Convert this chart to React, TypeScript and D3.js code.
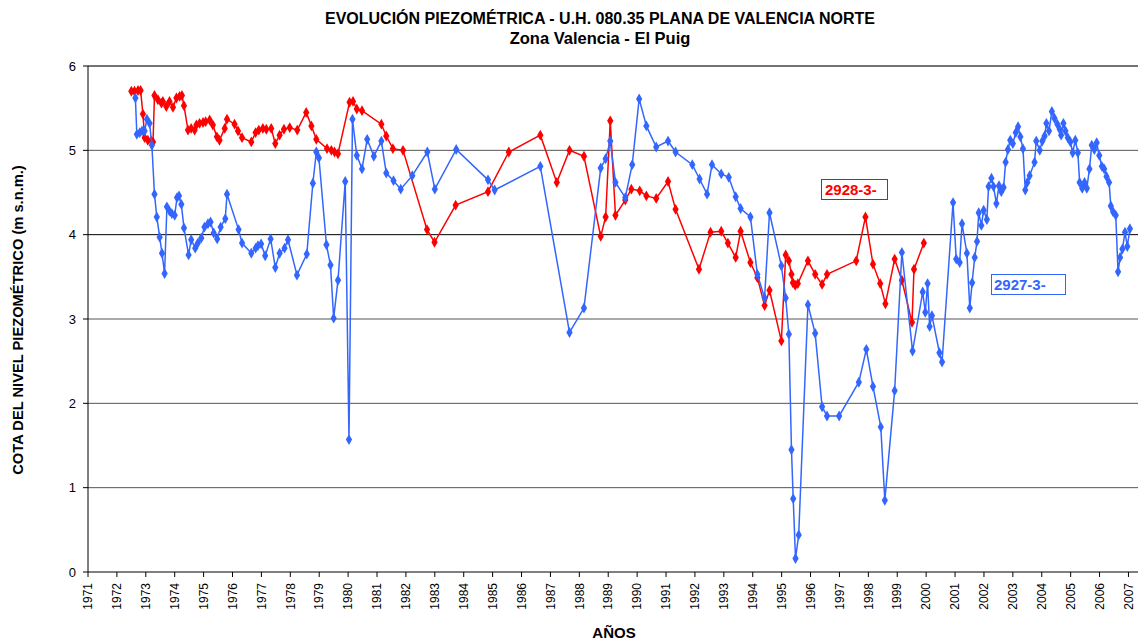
import React from "react";
import * as d3 from "d3";

// piezometer 2928-3- (red), [decimal year, level m s.n.m.]
const red2928: [number, number][] = [
  [1972.5, 5.7], [1972.61, 5.7], [1972.73, 5.71], [1972.82, 5.71], [1972.9, 5.43],
  [1972.96, 5.15], [1973.07, 5.12], [1973.19, 5.11], [1973.25, 5.1], [1973.3, 5.65],
  [1973.42, 5.6], [1973.54, 5.56], [1973.59, 5.58], [1973.71, 5.52], [1973.82, 5.58],
  [1973.94, 5.51], [1974.06, 5.62], [1974.17, 5.64], [1974.25, 5.65], [1974.32, 5.53],
  [1974.46, 5.24], [1974.57, 5.26], [1974.69, 5.24], [1974.75, 5.3], [1974.86, 5.32],
  [1974.98, 5.33], [1975.07, 5.34], [1975.21, 5.36], [1975.32, 5.3], [1975.46, 5.16],
  [1975.55, 5.12], [1975.73, 5.26], [1975.81, 5.37], [1976.07, 5.31], [1976.19, 5.23],
  [1976.33, 5.15], [1976.65, 5.1], [1976.8, 5.21], [1976.91, 5.24], [1977.05, 5.26],
  [1977.17, 5.25], [1977.34, 5.26], [1977.48, 5.08], [1977.63, 5.18], [1977.78, 5.25],
  [1977.98, 5.27], [1978.24, 5.24], [1978.55, 5.45], [1978.73, 5.29], [1978.9, 5.13],
  [1979.27, 5.02], [1979.42, 5.0], [1979.53, 4.98], [1979.65, 4.96], [1980.05, 5.57],
  [1980.17, 5.58], [1980.3, 5.49], [1980.48, 5.47], [1981.15, 5.31], [1981.32, 5.17],
  [1981.55, 5.02], [1981.9, 5.0], [1982.73, 4.06], [1982.99, 3.91], [1983.72, 4.35],
  [1984.84, 4.51], [1985.56, 4.98], [1986.65, 5.18], [1987.22, 4.62], [1987.66, 5.0],
  [1988.16, 4.93], [1988.74, 3.98], [1988.91, 4.21], [1989.07, 5.35], [1989.25, 4.23],
  [1989.59, 4.41], [1989.8, 4.54], [1990.09, 4.52], [1990.32, 4.46], [1990.66, 4.43],
  [1991.07, 4.63], [1991.33, 4.3], [1992.14, 3.59], [1992.54, 4.03], [1992.91, 4.04],
  [1993.14, 3.9], [1993.41, 3.73], [1993.58, 4.04], [1993.92, 3.67], [1994.16, 3.49],
  [1994.41, 3.16], [1994.58, 3.34], [1994.99, 2.74], [1995.14, 3.76], [1995.25, 3.69],
  [1995.34, 3.53], [1995.39, 3.43], [1995.47, 3.4], [1995.56, 3.42], [1995.91, 3.69],
  [1996.16, 3.53], [1996.4, 3.41], [1996.57, 3.53], [1997.58, 3.69], [1997.9, 4.21],
  [1998.16, 3.65], [1998.41, 3.42], [1998.59, 3.18], [1998.91, 3.71], [1999.16, 3.46],
  [1999.51, 2.96], [1999.58, 3.59], [1999.92, 3.9],
];

// piezometer 2927-3- (blue)
const blue2927: [number, number][] = [
  [1972.64, 5.62], [1972.69, 5.19], [1972.79, 5.21], [1972.87, 5.23], [1972.96, 5.23],
  [1973.04, 5.37], [1973.13, 5.32], [1973.21, 5.06], [1973.3, 4.48], [1973.38, 4.21],
  [1973.48, 3.97], [1973.56, 3.78], [1973.65, 3.54], [1973.73, 4.33], [1973.82, 4.28],
  [1973.9, 4.25], [1974.0, 4.23], [1974.08, 4.44], [1974.15, 4.46], [1974.23, 4.36],
  [1974.32, 4.08], [1974.48, 3.76], [1974.57, 3.94], [1974.71, 3.84], [1974.8, 3.9],
  [1974.92, 3.96], [1975.03, 4.09], [1975.15, 4.13], [1975.24, 4.15], [1975.35, 4.02],
  [1975.47, 3.95], [1975.59, 4.09], [1975.75, 4.19], [1975.81, 4.48], [1976.21, 4.06],
  [1976.33, 3.9], [1976.65, 3.78], [1976.8, 3.84], [1976.88, 3.87], [1976.99, 3.89],
  [1977.13, 3.75], [1977.32, 3.95], [1977.48, 3.61], [1977.63, 3.78], [1977.8, 3.84],
  [1977.92, 3.94], [1978.23, 3.52], [1978.57, 3.77], [1978.78, 4.61], [1978.9, 4.98],
  [1978.99, 4.91], [1979.25, 3.88], [1979.39, 3.64], [1979.5, 3.01], [1979.65, 3.46],
  [1979.9, 4.63], [1980.03, 1.57], [1980.15, 5.37], [1980.3, 4.94], [1980.48, 4.78],
  [1980.66, 5.13], [1980.89, 4.93], [1981.15, 5.11], [1981.32, 4.73], [1981.57, 4.64],
  [1981.82, 4.54], [1982.22, 4.7], [1982.74, 4.98], [1983.0, 4.54], [1983.74, 5.01],
  [1984.84, 4.65], [1985.07, 4.53], [1986.65, 4.81], [1987.66, 2.84], [1988.16, 3.13],
  [1988.74, 4.79], [1988.91, 4.9], [1989.07, 5.11], [1989.25, 4.62], [1989.59, 4.44],
  [1989.83, 4.83], [1990.07, 5.61], [1990.32, 5.29], [1990.66, 5.04], [1991.07, 5.11],
  [1991.33, 4.98], [1991.91, 4.83], [1992.16, 4.66], [1992.42, 4.48], [1992.59, 4.83],
  [1992.91, 4.72], [1993.17, 4.68], [1993.41, 4.45], [1993.58, 4.31], [1993.92, 4.21],
  [1994.16, 3.53], [1994.41, 3.25], [1994.58, 4.26], [1994.99, 3.63], [1995.14, 3.25],
  [1995.25, 2.82], [1995.34, 1.45], [1995.4, 0.87], [1995.48, 0.16], [1995.59, 0.44],
  [1995.91, 3.17], [1996.16, 2.83], [1996.4, 1.96], [1996.57, 1.85], [1996.99, 1.85],
  [1997.67, 2.25], [1997.93, 2.64], [1998.16, 2.2], [1998.43, 1.72], [1998.57, 0.85],
  [1998.91, 2.15], [1999.16, 3.79], [1999.53, 2.62], [1999.88, 3.32], [1999.97, 3.08],
  [2000.05, 3.42], [2000.12, 2.91], [2000.2, 3.04], [2000.46, 2.6], [2000.55, 2.49],
  [2000.93, 4.38], [2001.04, 3.71], [2001.16, 3.67], [2001.24, 4.13], [2001.41, 3.78],
  [2001.51, 3.13], [2001.59, 3.43], [2001.68, 3.73], [2001.76, 3.92], [2001.82, 4.26],
  [2001.91, 4.11], [2001.99, 4.29], [2002.1, 4.18], [2002.16, 4.57], [2002.26, 4.67],
  [2002.33, 4.57], [2002.43, 4.37], [2002.52, 4.58], [2002.6, 4.51], [2002.68, 4.56],
  [2002.75, 4.86], [2002.83, 5.01], [2002.91, 5.12], [2003.0, 5.08], [2003.1, 5.21],
  [2003.18, 5.28], [2003.26, 5.16], [2003.35, 5.02], [2003.43, 4.53], [2003.5, 4.62],
  [2003.58, 4.7], [2003.75, 4.86], [2003.81, 5.11], [2003.93, 5.0], [2004.02, 5.11],
  [2004.1, 5.17], [2004.16, 5.32], [2004.25, 5.23], [2004.35, 5.46], [2004.44, 5.38],
  [2004.54, 5.31], [2004.62, 5.25], [2004.67, 5.18], [2004.75, 5.32], [2004.82, 5.23],
  [2004.9, 5.15], [2004.99, 5.1], [2005.07, 4.97], [2005.16, 5.12], [2005.25, 4.97],
  [2005.31, 4.62], [2005.4, 4.55], [2005.48, 4.62], [2005.56, 4.55], [2005.65, 4.78],
  [2005.73, 5.06], [2005.82, 5.01], [2005.9, 5.09], [2005.99, 4.94], [2006.08, 4.81],
  [2006.16, 4.78], [2006.24, 4.69], [2006.33, 4.62], [2006.39, 4.34], [2006.47, 4.27],
  [2006.56, 4.23], [2006.64, 3.56], [2006.71, 3.73], [2006.79, 3.83], [2006.88, 4.03],
  [2006.96, 3.86], [2007.05, 4.07],
];

const yearTicks = d3.range(1971, 2008);
const levelTicks = [0, 1, 2, 3, 4, 5, 6];

const W = 1138;
const H = 643;
const left = 88;
const right = 1138;
const top = 66;
const bottom = 572;

const FONT = "Liberation Sans, Arial, sans-serif";

export default function App() {
  const x = d3.scaleLinear().domain([1971, 2007.33]).range([left, right]);
  const y = d3.scaleLinear().domain([0, 6]).range([bottom, top]);
  const line = d3
    .line<[number, number]>()
    .x((d) => x(d[0]))
    .y((d) => y(d[1]));
  const diamond = d3.symbol(d3.symbolDiamond, 34)();

  const series = [
    { name: "2928-3-", data: red2928, color: "#ff0000" },
    { name: "2927-3-", data: blue2927, color: "#3366ff" },
  ];

  return (
    <svg
      width={W}
      height={H}
      style={{ position: "absolute", left: 0, top: 0, background: "#fff" }}
      fontFamily={FONT}
    >
      <text x={600} y={24} textAnchor="middle" fontSize={16} fontWeight="bold">
        EVOLUCIÓN PIEZOMÉTRICA - U.H. 080.35 PLANA DE VALENCIA NORTE
      </text>
      <text x={600} y={44} textAnchor="middle" fontSize={16.5} fontWeight="bold">
        Zona Valencia - El Puig
      </text>

      {/* gridlines */}
      {levelTicks.slice(1).map((v) => (
        <line
          key={v}
          x1={left}
          x2={right}
          y1={y(v)}
          y2={y(v)}
          stroke={v === 4 ? "#000" : v === 6 ? "#444" : "#555"}
          strokeWidth={v === 6 ? 1.5 : 1}
        />
      ))}

      {/* axes */}
      <line x1={left} x2={left} y1={top} y2={bottom} stroke="#000" />
      <line x1={left} x2={right} y1={bottom} y2={bottom} stroke="#000" />
      {levelTicks.map((v) => (
        <g key={v}>
          <line x1={left - 5} x2={left} y1={y(v)} y2={y(v)} stroke="#000" />
          <text x={76} y={y(v)} dy="0.35em" textAnchor="end" fontSize={13}>
            {v}
          </text>
        </g>
      ))}
      {yearTicks.map((yr) => (
        <g key={yr}>
          <line x1={x(yr)} x2={x(yr)} y1={bottom} y2={bottom + 5} stroke="#000" />
          <text
            transform={`translate(${x(yr)},${bottom + 11}) rotate(-90)`}
            dy="0.35em"
            textAnchor="end"
            fontSize={12}
          >
            {yr}
          </text>
        </g>
      ))}

      <text x={614} y={638} textAnchor="middle" fontSize={15} fontWeight="bold">
        AÑOS
      </text>
      <text
        transform="translate(23,320) rotate(-90)"
        textAnchor="middle"
        fontSize={14.7}
        fontWeight="bold"
      >
        COTA DEL NIVEL PIEZOMÉTRICO (m s.n.m.)
      </text>

      {/* series */}
      {series.map((s) => (
        <g key={s.name}>
          <path d={line(s.data) ?? ""} fill="none" stroke={s.color} strokeWidth={1.5} />
          {s.data.map((d, i) => (
            <path
              key={i}
              d={diamond ?? ""}
              transform={`translate(${x(d[0])},${y(d[1])})`}
              fill={s.color}
            />
          ))}
        </g>
      ))}

      {/* series labels */}
      <rect x={821.5} y={179.5} width={66} height={20} fill="#fff" stroke="#ff0000" />
      <text x={825} y={195} fontSize={15} fontWeight="bold" fill="#ff0000">
        2928-3-
      </text>
      <rect x={991.5} y={274.5} width={74} height={20} fill="#fff" stroke="#3366ff" />
      <text x={994} y={290} fontSize={15} fontWeight="bold" fill="#3366ff">
        2927-3-
      </text>
    </svg>
  );
}
